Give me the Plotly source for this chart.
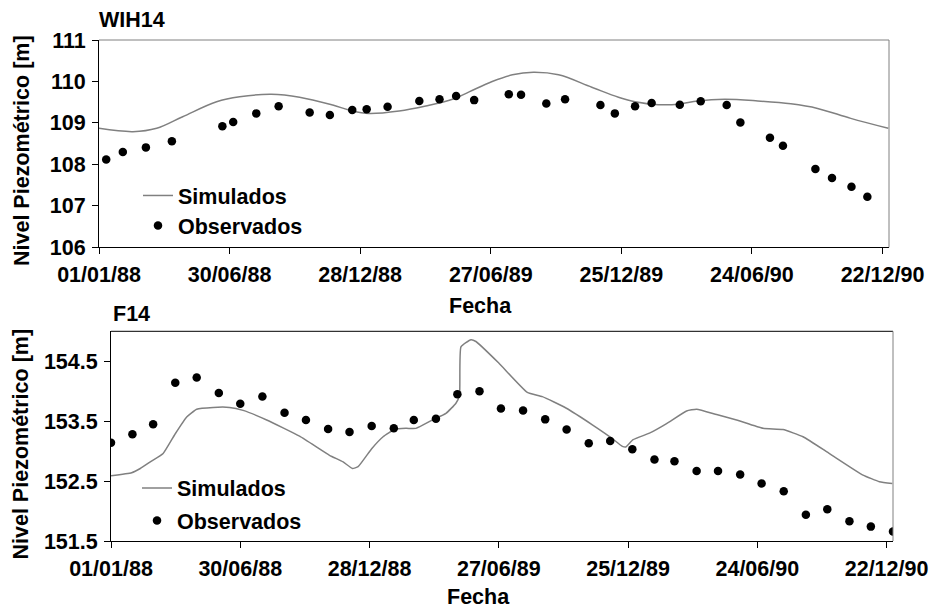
import plotly.graph_objects as go

# ---------------- data: WIH14 (top) ----------------
wih_obs_dates = ["1988-01-11", "1988-02-03", "1988-03-06", "1988-04-11", "1988-06-20", "1988-07-05",
                 "1988-08-06", "1988-09-06", "1988-10-19", "1988-11-16", "1988-12-17", "1989-01-06",
                 "1989-02-04", "1989-03-20", "1989-04-17", "1989-05-10", "1989-06-04", "1989-07-22",
                 "1989-08-08", "1989-09-12", "1989-10-08", "1989-11-26", "1989-12-16", "1990-01-13",
                 "1990-02-05", "1990-03-16", "1990-04-14", "1990-05-20", "1990-06-08", "1990-07-19",
                 "1990-08-06", "1990-09-20", "1990-10-13", "1990-11-09", "1990-12-01"]
wih_obs_vals = [108.12, 108.30, 108.41, 108.56, 108.92, 109.02, 109.23, 109.40, 109.25, 109.19,
                109.31, 109.33, 109.39, 109.53, 109.57, 109.65, 109.55, 109.69, 109.68, 109.47,
                109.57, 109.43, 109.23, 109.40, 109.48, 109.44, 109.52, 109.43, 109.01, 108.64,
                108.45, 107.89, 107.67, 107.46, 107.22]

wih_sim_dates = ["1988-01-01", "1988-02-17", "1988-03-21", "1988-04-26", "1988-06-12", "1988-07-14",
                 "1988-08-27", "1988-10-05", "1988-11-20", "1988-12-17", "1989-01-09", "1989-02-20",
                 "1989-03-29", "1989-05-05", "1989-05-28", "1989-06-29", "1989-07-27", "1989-08-25",
                 "1989-09-29", "1989-11-14", "1989-12-21", "1990-01-13", "1990-02-14", "1990-03-14",
                 "1990-04-10", "1990-05-17", "1990-07-02", "1990-08-17", "1990-09-23", "1990-11-08",
                 "1990-12-30"]
wih_sim_vals = [108.87, 108.79, 108.87, 109.15, 109.51, 109.63, 109.69, 109.62, 109.43, 109.29,
                109.23, 109.29, 109.41, 109.57, 109.75, 110.00, 110.16, 110.22, 110.16, 109.86,
                109.62, 109.51, 109.44, 109.45, 109.53, 109.57, 109.53, 109.46, 109.35, 109.11,
                108.87]

# ---------------- data: F14 (bottom) ----------------
f14_obs_dates = ["1988-01-01", "1988-01-31", "1988-02-29", "1988-03-31", "1988-04-30", "1988-05-31",
                 "1988-06-30", "1988-07-31", "1988-08-31", "1988-09-30", "1988-10-31", "1988-11-30",
                 "1988-12-31", "1989-01-31", "1989-02-28", "1989-03-31", "1989-04-30", "1989-05-31",
                 "1989-06-30", "1989-07-31", "1989-08-31", "1989-09-30", "1989-10-31", "1989-11-30",
                 "1989-12-31", "1990-01-31", "1990-02-28", "1990-03-31", "1990-04-30", "1990-05-31",
                 "1990-06-30", "1990-07-31", "1990-08-31", "1990-09-30", "1990-10-31", "1990-11-30",
                 "1990-12-31"]
f14_obs_vals = [153.14, 153.28, 153.45, 154.14, 154.23, 153.97, 153.79, 153.91, 153.64, 153.52,
                153.37, 153.32, 153.42, 153.38, 153.52, 153.54, 153.95, 154.00, 153.71, 153.68,
                153.53, 153.36, 153.13, 153.17, 153.03, 152.86, 152.83, 152.67, 152.67, 152.61,
                152.46, 152.33, 151.94, 152.03, 151.83, 151.74, 151.66]

f14_sim_dates = ["1988-01-01", "1988-01-30", "1988-02-11", "1988-02-25", "1988-03-14", "1988-03-31",
                 "1988-04-16", "1988-04-30", "1988-05-23", "1988-06-15", "1988-07-04", "1988-08-06",
                 "1988-09-21", "1988-11-02", "1988-11-21", "1988-12-04", "1988-12-12", "1988-12-31",
                 "1989-01-16", "1989-02-01", "1989-02-17", "1989-03-03", "1989-03-26", "1989-04-14",
                 "1989-04-28", "1989-05-03", "1989-05-05", "1989-05-19", "1989-05-26", "1989-06-27",
                 "1989-08-06", "1989-08-27", "1989-09-29", "1989-11-05", "1989-12-03", "1989-12-17",
                 "1989-12-22", "1990-01-01", "1990-01-24", "1990-02-17", "1990-03-17", "1990-03-31",
                 "1990-04-28", "1990-05-26", "1990-07-02", "1990-07-30", "1990-08-27", "1990-10-03",
                 "1990-11-19", "1990-12-12", "1990-12-30"]
f14_sim_vals = [152.59, 152.64, 152.71, 152.82, 152.96, 153.29, 153.57, 153.70, 153.73, 153.73,
                153.68, 153.52, 153.25, 152.93, 152.82, 152.71, 152.74, 153.04, 153.24, 153.36,
                153.38, 153.38, 153.52, 153.63, 153.80, 153.93, 154.74, 154.86, 154.83, 154.47,
                153.98, 153.91, 153.72, 153.44, 153.21, 153.08, 153.07, 153.19, 153.30, 153.46,
                153.67, 153.70, 153.61, 153.52, 153.38, 153.36, 153.24, 152.96, 152.60, 152.49,
                152.46]

x_tick_dates = ["1988-01-01", "1988-06-30", "1988-12-28", "1989-06-27", "1989-12-25", "1990-06-24",
                "1990-12-22"]
wih_y_ticks = [106, 107, 108, 109, 110, 111]
f14_y_ticks = [151.5, 152.5, 153.5, 154.5]

series_names = ["Simulados", "Observados"]
y_title = "Nivel Piezométrico [m]"
x_title = "Fecha"
panel_titles = ["WIH14", "F14"]

# ---------------- figure ----------------
W, H = 930, 610
FONT = "Liberation Sans, Arial, sans-serif"
fs = 21.5
LINE_C = "#808080"

def px(x):
    return x / W

def py(y):
    return 1 - y / H

fig = go.Figure()

fig.add_trace(go.Scatter(x=wih_sim_dates, y=wih_sim_vals, mode="lines", name=series_names[0],
                         line=dict(color=LINE_C, width=1.5, shape="spline", smoothing=1.0),
                         xaxis="x", yaxis="y", legend="legend"))
fig.add_trace(go.Scatter(x=wih_obs_dates, y=wih_obs_vals, mode="markers", name=series_names[1],
                         marker=dict(color="black", size=8.5),
                         xaxis="x", yaxis="y", legend="legend2"))
fig.add_trace(go.Scatter(x=f14_sim_dates, y=f14_sim_vals, mode="lines", name=series_names[0],
                         line=dict(color=LINE_C, width=1.5, shape="spline", smoothing=0.4),
                         xaxis="x2", yaxis="y2", legend="legend3"))
fig.add_trace(go.Scatter(x=f14_obs_dates, y=f14_obs_vals, mode="markers", name=series_names[1],
                         marker=dict(color="black", size=8.5),
                         xaxis="x2", yaxis="y2", legend="legend4"))

tickfont = dict(family=FONT, size=fs, color="black", weight="bold")

xcommon = dict(type="date", range=["1988-01-01", "1990-12-31"], tickvals=x_tick_dates,
               tickformat="%d/%m/%y", ticks="outside", ticklen=6, tickcolor="black",
               showline=True, linecolor="black", linewidth=1, showgrid=False, zeroline=False,
               tickfont=tickfont, ticklabelstandoff=2, automargin=False)
ycommon = dict(ticks="outside", ticklen=6, tickcolor="black", showline=True, linecolor="black",
               linewidth=1, showgrid=False, zeroline=False, tickfont=tickfont, ticklabelstandoff=2,
               automargin=False)

legend_common = dict(font=dict(family=FONT, size=fs, color="black", weight="bold"),
                     bgcolor="rgba(0,0,0,0)", itemwidth=30, tracegroupgap=0,
                     xanchor="left", yanchor="middle", traceorder="normal")

fig.update_layout(
    template="none",
    width=W, height=H,
    margin=dict(l=0, r=0, t=0, b=0, pad=0),
    paper_bgcolor="white", plot_bgcolor="white",
    font=dict(family=FONT, size=fs, color="black"),
    xaxis=dict(domain=[px(99), px(889)], anchor="y", **xcommon),
    yaxis=dict(domain=[py(247.3), py(40)], anchor="x", range=[106, 111], tickvals=wih_y_ticks,
               **ycommon),
    xaxis2=dict(domain=[px(111), px(893)], anchor="y2", **xcommon),
    yaxis2=dict(domain=[py(541), py(331.3)], anchor="x2", range=[151.5, 155], tickvals=f14_y_ticks,
                **ycommon),
    legend=dict(x=px(138), y=py(195.5), **legend_common),
    legend2=dict(x=px(138), y=py(225.5), **legend_common),
    legend3=dict(x=px(137), y=py(488), **legend_common),
    legend4=dict(x=px(137), y=py(520.5), **legend_common),
    showlegend=True,
)

# plot-area borders (top and right)
for xd, yd, top_col in [("x domain", "y domain", LINE_C), ("x2 domain", "y2 domain", "black")]:
    fig.add_shape(type="line", xref=xd, yref=yd, x0=0, x1=1, y0=1, y1=1,
                  line=dict(color=top_col, width=1))
    fig.add_shape(type="line", xref=xd, yref=yd, x0=1, x1=1, y0=0, y1=1,
                  line=dict(color=LINE_C, width=1))

bold = dict(family=FONT, size=fs, color="black", weight="bold")
annots = [
    dict(text=panel_titles[0], x=px(97), y=py(20), xanchor="left", yanchor="middle"),
    dict(text=panel_titles[1], x=px(111), y=py(314), xanchor="left", yanchor="middle"),
    dict(text=x_title, x=px(480), y=py(306), xanchor="center", yanchor="middle"),
    dict(text=x_title, x=px(479), y=py(597), xanchor="center", yanchor="middle"),
    dict(text=y_title, x=px(22), y=py(151), xanchor="center", yanchor="middle", textangle=-90),
    dict(text=y_title, x=px(20.5), y=py(444), xanchor="center", yanchor="middle", textangle=-90),
]
for a in annots:
    fig.add_annotation(xref="paper", yref="paper", showarrow=False, font=bold, **a)

fig.write_html("out.html")
